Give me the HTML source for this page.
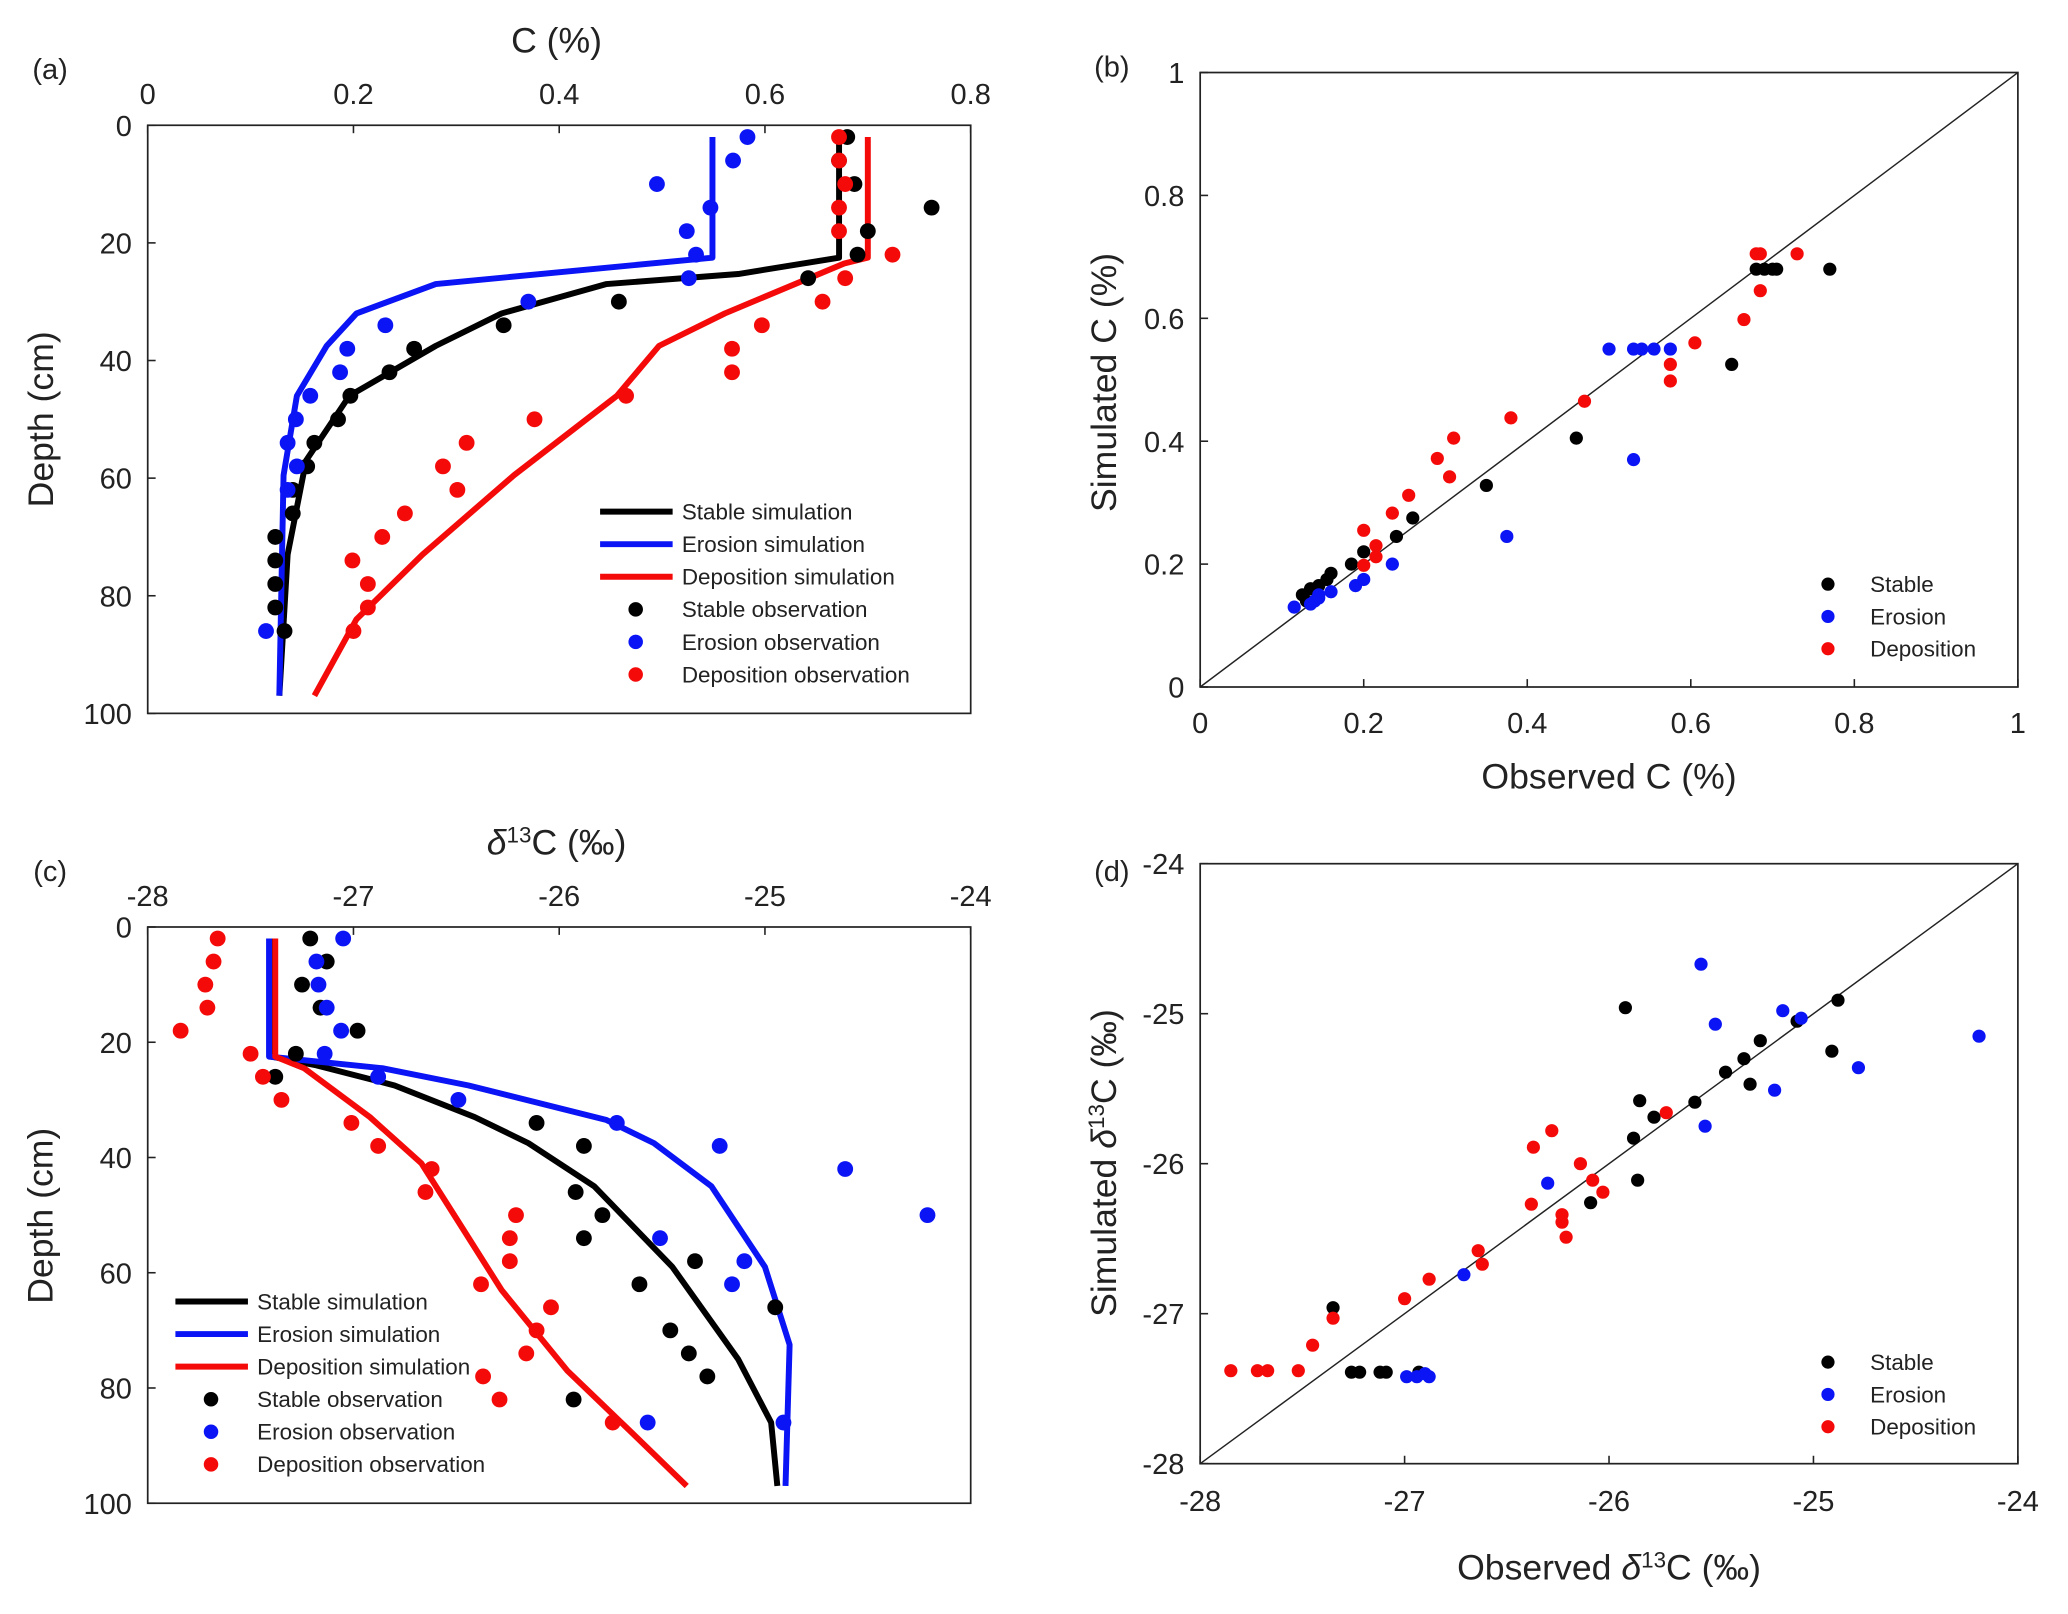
<!DOCTYPE html>
<html><head><meta charset="utf-8"><style>
html,body{margin:0;padding:0;background:#fff}
svg{display:block}
text{font-family:"Liberation Sans",Arial,sans-serif;fill:#222}
</style></head><body>
<svg id="fig" width="2068" height="1614" viewBox="0 0 1568 1224" preserveAspectRatio="none" xmlns="http://www.w3.org/2000/svg"></svg>
<script>
// ---- Panel (a) data: depth (cm) vs C (%) ----
const aDepthObs=[2,6,10,14,18,22,26,30,34,38,42,46,50,54,58,62,66,70,74,78,82,86];
const aStableObs=[0.68,0.672,0.687,0.762,0.70,0.69,0.642,0.458,0.346,0.259,0.235,0.197,0.185,0.162,0.155,0.141,0.141,0.124,0.124,0.124,0.124,0.133];
const aErosionDepth=[2,6,10,14,18,22,26,30,34,38,42,46,50,54,58,62,86];
const aErosionObs=[0.583,0.569,0.495,0.547,0.524,0.533,0.526,0.37,0.231,0.194,0.187,0.158,0.144,0.136,0.145,0.136,0.115];
const aDepoObs=[0.672,0.672,0.678,0.672,0.672,0.724,0.678,0.656,0.597,0.568,0.568,0.465,0.376,0.31,0.287,0.301,0.25,0.228,0.199,0.214,0.214,0.2];
const aStableSimD=[2,22.5,25.3,27,32,37.5,46,57,73,97];
const aStableSim=[0.672,0.672,0.574,0.446,0.344,0.28,0.196,0.154,0.136,0.128];
const aErosionSimD=[2,22.5,27,32,37.5,46,59.5,97];
const aErosionSim=[0.549,0.549,0.28,0.203,0.174,0.145,0.132,0.128];
const aDepoSimD=[2,22.5,23.5,32,37.5,46,59.5,73,84,97];
const aDepoSim=[0.70,0.70,0.677,0.561,0.497,0.456,0.356,0.267,0.203,0.162];
// ---- Panel (b) data: observed vs simulated C ----
const bStableObs=[0.68,0.69,0.70,0.705,0.77,0.65,0.46,0.35,0.26,0.24,0.20,0.185,0.16,0.155,0.145,0.135,0.125,0.13];
const bStableSim=[0.68,0.68,0.68,0.68,0.68,0.525,0.405,0.328,0.275,0.245,0.22,0.20,0.185,0.175,0.165,0.16,0.15,0.14];
const bErosionObs=[0.50,0.53,0.54,0.555,0.575,0.53,0.375,0.235,0.20,0.19,0.16,0.145,0.14,0.135,0.115,0.145];
const bErosionSim=[0.55,0.55,0.55,0.55,0.55,0.37,0.245,0.20,0.175,0.165,0.155,0.15,0.14,0.135,0.13,0.145];
const bDepoObs=[0.68,0.685,0.73,0.685,0.665,0.605,0.575,0.575,0.47,0.38,0.31,0.29,0.305,0.255,0.235,0.2,0.215,0.215,0.2];
const bDepoSim=[0.705,0.705,0.705,0.645,0.598,0.56,0.525,0.498,0.465,0.438,0.405,0.372,0.342,0.312,0.283,0.255,0.23,0.212,0.198];
// ---- Panel (c) data: depth vs d13C ----
const cStableD=[2,6,10,14,18,22,26,34,38,46,50,54,58,62,66,70,74,78,82];
const cStableObs=[-27.21,-27.13,-27.25,-27.16,-26.98,-27.28,-27.38,-26.11,-25.88,-25.92,-25.79,-25.88,-25.34,-25.61,-24.95,-25.46,-25.37,-25.28,-25.93];
const cErosionD=[2,6,10,14,18,22,26,30,34,38,42,50,54,58,62,86,86];
const cErosionObs=[-27.05,-27.18,-27.17,-27.13,-27.06,-27.14,-26.88,-26.49,-25.72,-25.22,-24.61,-24.21,-25.51,-25.10,-25.16,-24.91,-25.57];
const cDepoD=[2,6,10,14,18,22,26,30,34,38,42,46,50,54,58,62,66,70,74,78,82,86];
const cDepoObs=[-27.66,-27.68,-27.72,-27.71,-27.84,-27.5,-27.44,-27.35,-27.01,-26.88,-26.62,-26.65,-26.21,-26.24,-26.24,-26.38,-26.04,-26.11,-26.16,-26.37,-26.29,-25.74];
const cStableSimD=[2,22.5,24,27.5,33,37.5,45,59,75,86,97];
const cStableSim=[-27.40,-27.40,-27.18,-26.80,-26.41,-26.15,-25.83,-25.45,-25.13,-24.97,-24.94];
const cErosionSimD=[2,22.5,24.5,27.5,33.5,37.5,45,59,72.5,97];
const cErosionSim=[-27.41,-27.41,-26.86,-26.44,-25.77,-25.54,-25.26,-25.0,-24.88,-24.9];
const cDepoSimD=[2,22.5,24.5,33,41,50,63,77,88,97];
const cDepoSim=[-27.38,-27.38,-27.24,-26.92,-26.67,-26.51,-26.28,-25.96,-25.64,-25.38];
// ---- Panel (d) data: observed vs simulated d13C ----
const dStableObs=[-24.88,-25.08,-24.91,-25.26,-25.34,-25.43,-25.58,-25.31,-25.85,-25.78,-25.88,-25.86,-26.09,-25.92,-27.35,-27.26,-27.22,-27.12,-27.09,-26.93];
const dStableSim=[-24.91,-25.05,-25.25,-25.18,-25.30,-25.39,-25.59,-25.47,-25.58,-25.69,-25.83,-26.11,-26.26,-24.96,-26.96,-27.39,-27.39,-27.39,-27.39,-27.39];
const dErosionObs=[-25.55,-25.48,-25.15,-25.06,-24.78,-25.19,-25.53,-26.30,-26.71,-26.99,-26.94,-26.90,-26.88,-24.19];
const dErosionSim=[-24.67,-25.07,-24.98,-25.03,-25.36,-25.51,-25.75,-26.13,-26.74,-27.42,-27.42,-27.40,-27.42,-25.15];
const dDepoObs=[-25.72,-26.37,-26.28,-26.14,-26.08,-26.03,-26.38,-26.23,-26.23,-26.21,-26.64,-26.62,-27.00,-26.88,-27.35,-27.45,-27.52,-27.72,-27.67,-27.85];
const dDepoSim=[-25.66,-25.89,-25.78,-26.0,-26.11,-26.19,-26.27,-26.34,-26.39,-26.49,-26.58,-26.67,-26.90,-26.77,-27.03,-27.21,-27.38,-27.38,-27.38,-27.38];

const NS='http://www.w3.org/2000/svg';
const svg=document.getElementById('fig');
function mk(tag,attrs,parent){const e=document.createElementNS(NS,tag);for(const k in attrs)e.setAttribute(k,attrs[k]);(parent||svg).appendChild(e);return e;}
function txt(x,y,s,size,anchor,parent){const t=mk('text',{x:x,y:y,'font-size':size,'text-anchor':anchor||'middle'},parent);t.textContent=s;return t;}
const COL={stable:'#000000',erosion:'#0a14f5',depo:'#f50a0a'};

function panel(id,x0,x1,y0,y1,xmin,xmax,ymin,ymax){
  const g=mk('g',{});
  
  
  const sx=v=>x0+(v-xmin)/(xmax-xmin)*(x1-x0);
  const sy=v=>y0+(v-ymin)/(ymax-ymin)*(y1-y0);
  const box=mk('rect',{x:x0,y:y0,width:x1-x0,height:y1-y0,fill:'none',stroke:'#222','stroke-width':1.3},g);
  
  
  return {g,sx,sy,x0,x1,y0,y1};
}
function xticks(p,vals,labels,yLab,tickAtTop,name){
  const g=mk('g',{},p.g);
  
  
  vals.forEach((v,i)=>{const x=p.sx(v);
    const yb=tickAtTop?p.y0:p.y1, d=tickAtTop?6:-6;
    mk('line',{x1:x,x2:x,y1:yb,y2:yb+d,stroke:'#222','stroke-width':1.2},g);
    const t=txt(x,yLab,labels[i],22,'middle',g);
    
    });
}
function yticks(p,vals,labels,xLab,name){
  const g=mk('g',{},p.g);
  
  
  vals.forEach((v,i)=>{const y=p.sy(v);
    mk('line',{x1:p.x0,x2:p.x0+6,y1:y,y2:y,stroke:'#222','stroke-width':1.2},g);
    const t=txt(xLab,y+8,labels[i],22,'end',g);
    
    });
}
function line(p,xs,ys,col,name){
  const pts=xs.map((x,i)=>p.sx(x).toFixed(1)+','+p.sy(ys[i]).toFixed(1)).join(' ');
  const l=mk('polyline',{points:pts,fill:'none',stroke:col,'stroke-width':4.5,'stroke-linejoin':'round'},p.g);
  
  
}
function dots(p,xs,ys,col,r,name){
  const g=mk('g',{},p.g);
  
  
  xs.forEach((x,i)=>{const c=mk('circle',{cx:p.sx(x),cy:p.sy(ys[i]),r:r,fill:col},g);
    
    });
}
function legendLines(x,y,items,name){
  const g=mk('g',{});
  
  
  items.forEach((it,i)=>{const yy=y+i*24.7;
    if(it[2]==='line'){mk('line',{x1:x,x2:x+55,y1:yy,y2:yy,stroke:it[1],'stroke-width':4.5},g);}
    else{mk('circle',{cx:x+27,cy:yy,r:5.5,fill:it[1]},g);}
    const t=txt(x+62,yy+6,it[0],17,'start',g);
    
    });
}
function legendDots(x,y,items,name){
  const g=mk('g',{});
  
  
  items.forEach((it,i)=>{const yy=y+i*24.5;
    mk('circle',{cx:x,cy:yy,r:5,fill:it[1]},g);
    const t=txt(x+32,yy+6,it[0],17,'start',g);
    
    });
}
function label(x,y,s,size,name,rot){
  const t=txt(x,y,'',size,'middle');
  t.innerHTML=s;
  if(rot)t.setAttribute('transform','rotate(-90 '+x+' '+y+')');
  
  
  return t;
}
const depthTicks=[0,20,40,60,80,100], depthLabels=['0','20','40','60','80','100'];

// ---- (a)
const pa=panel('a',112,736,95,541,0,0.8,0,100);
xticks(pa,[0,0.2,0.4,0.6,0.8],['0','0.2','0.4','0.6','0.8'],79,true,'x-axis-a');
yticks(pa,depthTicks,depthLabels,100,'y-axis-a');
line(pa,aStableSim,aStableSimD,COL.stable,'stable-simulation-a');
line(pa,aErosionSim,aErosionSimD,COL.erosion,'erosion-simulation-a');
line(pa,aDepoSim,aDepoSimD,COL.depo,'deposition-simulation-a');
dots(pa,aStableObs,aDepthObs,COL.stable,6,'stable-observation-a');
dots(pa,aErosionObs,aErosionDepth,COL.erosion,6,'erosion-observation-a');
dots(pa,aDepoObs,aDepthObs,COL.depo,6,'deposition-observation-a');
label(422,40,'C (%)',27,'x-axis-title-a');
label(40,318,'Depth (cm)',27,'y-axis-title-a',true);
label(38,60,'(a)',22,'panel-label-a');
legendLines(455,388,[['Stable simulation',COL.stable,'line'],['Erosion simulation',COL.erosion,'line'],['Deposition simulation',COL.depo,'line'],['Stable observation',COL.stable,'dot'],['Erosion observation',COL.erosion,'dot'],['Deposition observation',COL.depo,'dot']],'legend-a');

// ---- (b)
const pb=panel('b',910,1530,55,521,0,1,1,0);
xticks(pb,[0,0.2,0.4,0.6,0.8,1],['0','0.2','0.4','0.6','0.8','1'],556,false,'x-axis-b');
yticks(pb,[0,0.2,0.4,0.6,0.8,1],['0','0.2','0.4','0.6','0.8','1'],898,'y-axis-b');
const d1=mk('line',{x1:pb.sx(0),y1:pb.sy(0),x2:pb.sx(1),y2:pb.sy(1),stroke:'#222','stroke-width':1.1},pb.g);


dots(pb,bStableObs,bStableSim,COL.stable,5,'stable-points-b');
dots(pb,bErosionObs,bErosionSim,COL.erosion,5,'erosion-points-b');
dots(pb,bDepoObs,bDepoSim,COL.depo,5,'deposition-points-b');
label(1220,598,'Observed C (%)',27,'x-axis-title-b');
label(846,290,'Simulated C (%)',27,'y-axis-title-b',true);
label(843,58,'(b)',22,'panel-label-b');
legendDots(1386,443,[['Stable',COL.stable],['Erosion',COL.erosion],['Deposition',COL.depo]],'legend-b');

// ---- (c)
const pc=panel('c',112,736,703,1140,-28,-24,0,100);
xticks(pc,[-28,-27,-26,-25,-24],['-28','-27','-26','-25','-24'],687,true,'x-axis-c');
yticks(pc,depthTicks,depthLabels,100,'y-axis-c');
line(pc,cStableSim,cStableSimD,COL.stable,'stable-simulation-c');
line(pc,cErosionSim,cErosionSimD,COL.erosion,'erosion-simulation-c');
line(pc,cDepoSim,cDepoSimD,COL.depo,'deposition-simulation-c');
dots(pc,cStableObs,cStableD,COL.stable,6,'stable-observation-c');
dots(pc,cErosionObs,cErosionD,COL.erosion,6,'erosion-observation-c');
dots(pc,cDepoObs,cDepoD,COL.depo,6,'deposition-observation-c');
label(422,648,'<tspan font-style="italic">δ</tspan><tspan baseline-shift="super" font-size="17">13</tspan>C (‰)',27,'x-axis-title-c');
label(40,922,'Depth (cm)',27,'y-axis-title-c',true);
label(38,668,'(c)',22,'panel-label-c');
legendLines(133,987,[['Stable simulation',COL.stable,'line'],['Erosion simulation',COL.erosion,'line'],['Deposition simulation',COL.depo,'line'],['Stable observation',COL.stable,'dot'],['Erosion observation',COL.erosion,'dot'],['Deposition observation',COL.depo,'dot']],'legend-c');

// ---- (d)
const pd=panel('d',910,1530,655,1110,-28,-24,-24,-28);
xticks(pd,[-28,-27,-26,-25,-24],['-28','-27','-26','-25','-24'],1146,false,'x-axis-d');
yticks(pd,[-28,-27,-26,-25,-24],['-28','-27','-26','-25','-24'],898,'y-axis-d');
const d2=mk('line',{x1:pd.sx(-28),y1:pd.sy(-28),x2:pd.sx(-24),y2:pd.sy(-24),stroke:'#222','stroke-width':1.1},pd.g);


dots(pd,dStableObs,dStableSim,COL.stable,5,'stable-points-d');
dots(pd,dErosionObs,dErosionSim,COL.erosion,5,'erosion-points-d');
dots(pd,dDepoObs,dDepoSim,COL.depo,5,'deposition-points-d');
label(1220,1198,'Observed <tspan font-style="italic">δ</tspan><tspan baseline-shift="super" font-size="17">13</tspan>C (‰)',27,'x-axis-title-d');
label(846,882,'Simulated <tspan font-style="italic">δ</tspan><tspan baseline-shift="super" font-size="17">13</tspan>C (‰)',27,'y-axis-title-d',true);
label(843,668,'(d)',22,'panel-label-d');
legendDots(1386,1033,[['Stable',COL.stable],['Erosion',COL.erosion],['Deposition',COL.depo]],'legend-d');
</script>
</body></html>
